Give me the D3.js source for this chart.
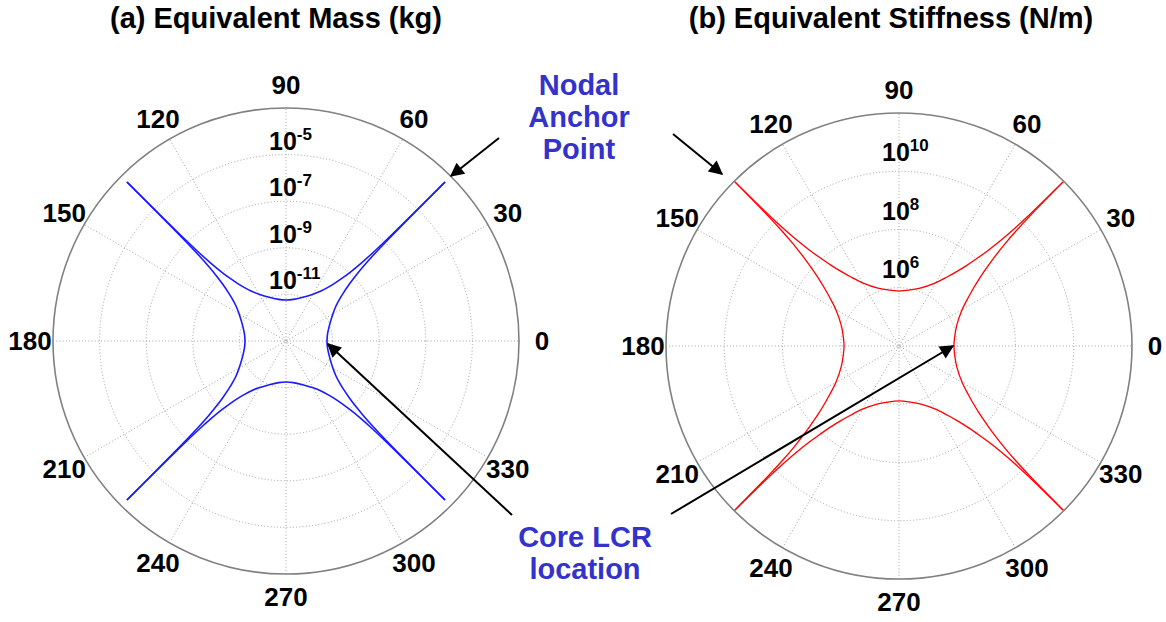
<!DOCTYPE html>
<html>
<head>
<meta charset="utf-8">
<script src="https://cdn.jsdelivr.net/npm/d3@7/dist/d3.min.js"></script>
<style>
  html, body { margin: 0; padding: 0; background: #fff; }
  svg { display: block; }
  text { font-family: "Liberation Sans", Arial, sans-serif; }
</style>
</head>
<body>
<svg id="chart" width="1166" height="622"></svg>
<script>
// ---------------- data ----------------
const titles = ["(a) Equivalent Mass (kg)", "(b) Equivalent Stiffness (N/m)"];
const angleTicks = [0, 30, 60, 90, 120, 150, 180, 210, 240, 270, 300, 330];
// each curve is made of four branches, one centred on each of these axes (deg)
const branchAxes = [0, 90, 180, 270];
// angular offsets (deg) from the branch axis at which values were read
const branchOffsets = [-45, -44.8, -44.5, -44, -43, -42, -40, -38, -35, -30, -20, -10, 0,
                       10, 20, 30, 35, 38, 40, 42, 43, 44, 44.5, 44.8, 45];
// equivalent mass (kg) read along a branch
const massValues = [4.5e-4, 1.24e-7, 1.72e-8, 4.3e-9, 1.08e-9, 4.7e-10, 1.65e-10, 8.3e-11, 4.15e-11,
                    2.1e-11, 9.7e-12, 6.5e-12, 5.75e-12, 6.5e-12, 9.7e-12, 2.1e-11, 4.15e-11,
                    8.3e-11, 1.65e-10, 4.7e-10, 1.08e-9, 4.3e-9, 1.72e-8, 1.24e-7, 4.5e-4];
// equivalent stiffness (N/m) read along a branch
const stiffValues = [9.3e11, 2.08e10, 4.3e9, 1.21e9, 3.15e8, 1.32e8, 4.0e7, 1.83e7, 8.0e6,
                     3.2e6, 1.3e6, 8.8e5, 7.7e5, 8.8e5, 1.3e6, 3.2e6, 8.0e6,
                     1.83e7, 4.0e7, 1.32e8, 3.15e8, 1.21e9, 4.3e9, 2.08e10, 9.3e11];
// radial axes
const massDomain = [1e-13, 1e-3];
const massRings = [1e-11, 1e-9, 1e-7, 1e-5, 1e-3];
const massRingLabels = ["-11", "-9", "-7", "-5"];
const stiffDomain = [1e4, 1e12];
const stiffRings = [1e6, 1e8, 1e10, 1e12];
const stiffRingLabels = ["6", "8", "10"];

// ---------------- drawing ----------------
const svg = d3.select("#chart");
const R = 233;
const deg = d3.scaleLinear().domain([0, 360]).range([0, 2 * Math.PI]);

function polarPanel(opts) {
  const g = svg.append("g").attr("transform", `translate(${opts.cx},${opts.cy})`);
  const r = d3.scaleLog().domain(opts.domain).range([0, R]);

  // dotted rings
  g.selectAll("circle.ring").data(opts.rings.slice(0, -1)).join("circle")
    .attr("class", "ring").attr("r", d => r(d))
    .attr("fill", "none").attr("stroke", "#a0a0a0").attr("stroke-width", 1)
    .attr("stroke-dasharray", "1,2.2");
  // dotted spokes
  g.selectAll("line.spoke").data(angleTicks.slice(0, 6)).join("line")
    .attr("class", "spoke")
    .attr("x1", d => -R * Math.cos(deg(d))).attr("y1", d => R * Math.sin(deg(d)))
    .attr("x2", d => R * Math.cos(deg(d))).attr("y2", d => -R * Math.sin(deg(d)))
    .attr("stroke", "#a0a0a0").attr("stroke-width", 1).attr("stroke-dasharray", "1,2.2");
  // outer circle
  g.append("circle").attr("r", r(opts.rings[opts.rings.length - 1]))
    .attr("fill", "none").attr("stroke", "#808080").attr("stroke-width", 1.6);

  // angle labels
  g.selectAll("text.ang").data(angleTicks).join("text")
    .attr("class", "ang")
    .attr("x", d => 256 * Math.cos(deg(d)))
    .attr("y", d => -256 * Math.sin(deg(d)))
    .attr("text-anchor", "middle").attr("dominant-baseline", "central")
    .attr("font-size", 26).attr("font-weight", "bold").attr("fill", "#000")
    .text(d => d);

  // radial labels
  opts.ringLabels.forEach((lab, i) => {
    const t = g.append("text")
      .attr("x", -17).attr("y", -r(opts.rings[i]) - opts.labOff)
      .attr("font-size", 25).attr("font-weight", "bold").attr("fill", "#000");
    t.append("tspan").text("10");
    t.append("tspan").attr("dy", -10).attr("font-size", 17).text(lab);
  });

  // curve branches
  const line = d3.lineRadial()
    .angle(d => Math.PI / 2 - deg(d[0]))
    .radius(d => r(d[1]))
    .curve(d3.curveCatmullRom.alpha(0.5));
  branchAxes.forEach(ax => {
    const pts = branchOffsets.map((o, i) => [ax + o, opts.values[i]]);
    g.append("path").datum(pts)
      .attr("d", line)
      .attr("fill", "none").attr("stroke", opts.color).attr("stroke-width", opts.width)
      .attr("stroke-linejoin", "round");
  });

  // title
  svg.append("text")
    .attr("x", opts.titleX).attr("y", 28)
    .attr("text-anchor", "middle").attr("font-size", 29).attr("font-weight", "bold")
    .attr("fill", "#000").text(opts.title);

  return {r, cx: opts.cx, cy: opts.cy};
}

const left = polarPanel({cx: 286, cy: 341, domain: massDomain, rings: massRings,
  ringLabels: massRingLabels, labOff: 5, values: massValues, color: "#1a1aff", width: 1.6,
  title: titles[0], titleX: 276});
const right = polarPanel({cx: 899, cy: 346, domain: stiffDomain, rings: stiffRings,
  ringLabels: stiffRingLabels, labOff: 10, values: stiffValues, color: "#ff0000", width: 1.3,
  title: titles[1], titleX: 891});

// ---------------- annotations ----------------
const defs = svg.append("defs");
defs.append("marker").attr("id", "ah")
  .attr("viewBox", "0 0 10 10").attr("refX", 9).attr("refY", 5)
  .attr("markerWidth", 8).attr("markerHeight", 7).attr("markerUnits", "strokeWidth")
  .attr("orient", "auto")
  .append("path").attr("d", "M0,0 L10,5 L0,10 Z").attr("fill", "#000");

const annColor = "#3333cc";
const nodal = ["Nodal", "Anchor", "Point"];
svg.selectAll("text.nodal").data(nodal).join("text").attr("class", "nodal")
  .attr("x", 579).attr("y", (d, i) => 95 + i * 32)
  .attr("text-anchor", "middle").attr("font-size", 29).attr("font-weight", "bold")
  .attr("fill", annColor).text(d => d);
const core = ["Core LCR", "location"];
svg.selectAll("text.core").data(core).join("text").attr("class", "core")
  .attr("x", 585).attr("y", (d, i) => 547 + i * 32)
  .attr("text-anchor", "middle").attr("font-size", 29).attr("font-weight", "bold")
  .attr("fill", annColor).text(d => d);

function arrow(x1, y1, x2, y2) {
  svg.append("line").attr("x1", x1).attr("y1", y1).attr("x2", x2).attr("y2", y2)
    .attr("stroke", "#000").attr("stroke-width", 2).attr("marker-end", "url(#ah)");
}
// nodal anchor arrows
arrow(499, 138, 451, 176);
arrow(673, 134, 722, 174);
// core LCR arrows, tips on the 0-degree branch vertices
const tipL = left.cx + left.r(massValues[12]);
const tipR = right.cx + right.r(stiffValues[12]);
arrow(512, 515, tipL + 1, left.cy + 3);
arrow(671, 514, tipR - 1, right.cy);
</script>
</body>
</html>
